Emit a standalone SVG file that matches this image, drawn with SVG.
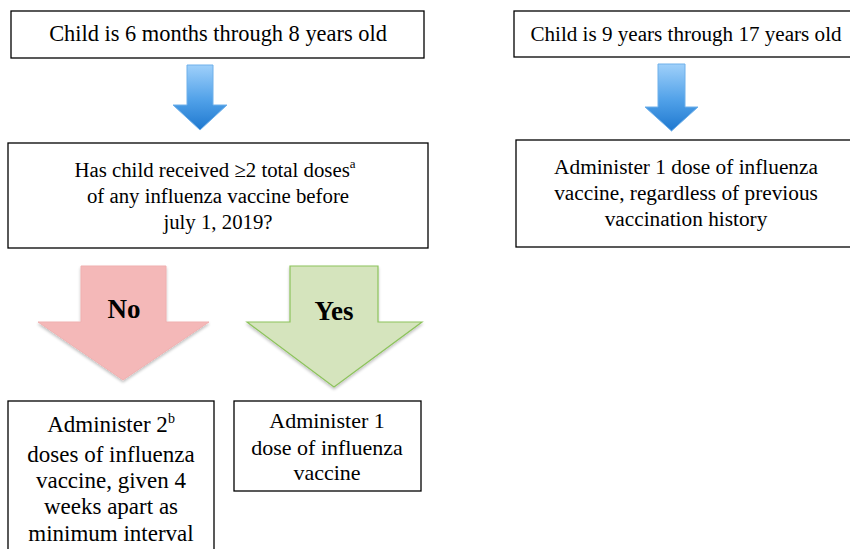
<svg xmlns="http://www.w3.org/2000/svg" width="850" height="549" viewBox="0 0 850 549">
<style>
.box{fill:#fff;stroke:#000;stroke-width:1.3}
.t{font-family:"Liberation Serif","Times New Roman",serif;fill:#000;text-anchor:middle}
.lbl{font-family:"Liberation Serif","Times New Roman",serif;font-size:27px;font-weight:bold;fill:#000;text-anchor:middle}
.blue{fill:url(#bg);stroke:#6fb0ea;stroke-width:1}
.pink{fill:#f4b8b8;stroke:#f0b0b0;stroke-width:1;filter:url(#sh)}
.green{fill:#d5e4bd;stroke:#8dc35c;stroke-width:1.2;filter:url(#sh)}
</style>
<defs>
<linearGradient id="bg" x1="0" y1="0" x2="0" y2="1">
<stop offset="0" stop-color="#9fd0fa"/>
<stop offset="0.55" stop-color="#4fa0e8"/>
<stop offset="1" stop-color="#1f78cf"/>
</linearGradient>
<filter id="sh" x="-10%" y="-10%" width="130%" height="130%">
<feGaussianBlur in="SourceAlpha" stdDeviation="1.5"/>
<feOffset dx="0" dy="2" result="b"/>
<feComponentTransfer><feFuncA type="linear" slope="0.25"/></feComponentTransfer>
<feMerge><feMergeNode/><feMergeNode in="SourceGraphic"/></feMerge>
</filter>
</defs>
<g id="connectors">
<path class="blue" d="M187,65 H213 V105 H227 L200,130 L173,105 H187 Z"/>
<path class="blue" d="M658,64 H685 V107 H698 L671.5,131 L645,107 H658 Z"/>
<path class="pink" d="M81,266 H166 V322 H209 L123,380 L38,322 H81 Z"/>
<path class="green" d="M290,266 H378 V322 H422 L334,387 L247,322 H290 Z"/>
<text class="lbl" x="124" y="318">No</text>
<text class="lbl" x="334" y="320">Yes</text>
</g>
<g id="n-young">
<rect class="box" x="11" y="11" width="413" height="47"/>
<text class="t" x="218" y="41" font-size="22.4">Child is 6 months through 8 years old</text>
</g>
<g id="n-old">
<rect class="box" x="514" y="11" width="345" height="46"/>
<text class="t" x="686" y="41" font-size="21.1">Child is 9 years through 17 years old</text>
</g>
<g id="n-question">
<rect class="box" x="8" y="143" width="420" height="105"/>
<text class="t" x="215" y="177" font-size="20.8">Has child received ≥2 total doses<tspan font-size="13" dy="-9">a</tspan></text>
<text class="t" x="218" y="203" font-size="20.8">of any influenza vaccine before</text>
<text class="t" x="218" y="229" font-size="20.8">july 1, 2019?</text>
</g>
<g id="n-right">
<rect class="box" x="516" y="140" width="340" height="107"/>
<text class="t" x="686" y="174" font-size="21.3">Administer 1 dose of influenza</text>
<text class="t" x="686" y="200" font-size="21.3">vaccine, regardless of previous</text>
<text class="t" x="686" y="226" font-size="21.3">vaccination history</text>
</g>
<g id="n-two">
<rect class="box" x="8" y="401" width="206" height="160"/>
<text class="t" x="111" y="432" font-size="23">Administer 2<tspan font-size="14" dy="-9">b</tspan></text>
<text class="t" x="111" y="462" font-size="23">doses of influenza</text>
<text class="t" x="111" y="488" font-size="23">vaccine, given 4</text>
<text class="t" x="111" y="514" font-size="23">weeks apart as</text>
<text class="t" x="111" y="541" font-size="23">minimum interval</text>
</g>
<g id="n-one">
<rect class="box" x="234" y="401" width="187" height="90"/>
<text class="t" x="327" y="428" font-size="22">Administer 1</text>
<text class="t" x="327" y="455" font-size="22">dose of influenza</text>
<text class="t" x="327" y="480" font-size="22">vaccine</text>
</g>
</svg>
